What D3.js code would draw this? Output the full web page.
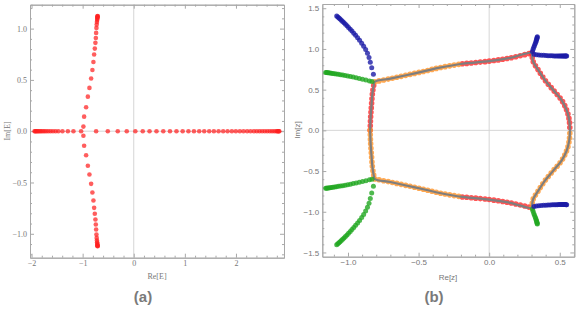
<!DOCTYPE html>
<html>
<head>
<meta charset="utf-8">
<script src="https://cdn.jsdelivr.net/npm/d3@7"></script>
<style>body{margin:0;background:#fff}</style>
</head>
<body>
<div class="canvas"></div>
<script>
// ---- panel (a): spectrum E ----
const realE = [-1.941,-1.928,-1.912,-1.895,-1.875,-1.854,-1.830,-1.805,-1.775,-1.744,-1.709,-1.670,-1.627,-1.580,-1.529,-1.475,-1.395,-1.289,-1.180,-1.030,
  -0.736,-0.508,-0.313,-0.137,0.031,0.176,0.309,0.445,0.578,0.709,0.836,0.957,1.070,1.178,1.281,1.379,1.477,1.568,1.660,1.750,1.836,1.920,1.998,
  2.076,2.148,2.219,2.285,2.350,2.408,2.461,2.512,2.564,2.613,2.662,2.707,2.750,2.789,2.810,2.825,2.838,2.848];
// upper branch, the lower one is its complex conjugate
const branchE = [[-0.985,0.045],[-0.971,0.142],[-0.932,0.234],[-0.898,0.337],[-0.867,0.422],[-0.834,0.513],[-0.809,0.597],[-0.789,0.675],
  [-0.775,0.747],[-0.762,0.805],[-0.750,0.861],[-0.742,0.909],[-0.736,0.958],[-0.730,1.007],[-0.725,1.040],[-0.720,1.065],[-0.716,1.083],
  [-0.713,1.097],[-0.711,1.107],[-0.709,1.114],[-0.708,1.119],[-0.707,1.122]];

// ---- panel (b): z plane ----
const blueArc = [[-1.080,1.404],[-1.072,1.392],[-1.064,1.380],[-1.056,1.367],[-1.047,1.353],[-1.038,1.338],[-1.028,1.321],[-1.018,1.303],
  [-1.007,1.284],[-0.996,1.264],[-0.984,1.242],[-0.972,1.219],[-0.959,1.194],[-0.946,1.167],[-0.932,1.138],[-0.918,1.106],[-0.903,1.071],
  [-0.889,1.033],[-0.875,0.992],[-0.862,0.946],[-0.851,0.895],[-0.842,0.838],[-0.832,0.770],[-0.820,0.688]];
const greenLeft = [[-1.158,0.712],[-1.152,0.711],[-1.145,0.709],[-1.137,0.707],[-1.128,0.705],[-1.118,0.702],[-1.107,0.699],[-1.095,0.696],
  [-1.082,0.692],[-1.068,0.688],[-1.053,0.684],[-1.037,0.679],[-1.020,0.674],[-1.002,0.668],[-0.983,0.661],[-0.963,0.654],[-0.942,0.646],
  [-0.920,0.637],[-0.897,0.628],[-0.873,0.618],[-0.848,0.607],[-0.830,0.600]];
const rightVert = [[0.341,1.150],[0.340,1.140],[0.338,1.128],[0.336,1.115],[0.333,1.100],[0.330,1.083],[0.326,1.064],[0.321,1.043],
  [0.316,1.020],[0.311,0.995],[0.307,0.968]];
const rightHoriz = [[0.318,0.935],[0.335,0.930],[0.352,0.926],[0.369,0.923],[0.386,0.921],[0.402,0.919],[0.417,0.917],[0.432,0.916],
  [0.446,0.915],[0.459,0.914],[0.471,0.913],[0.482,0.913],[0.492,0.912],[0.501,0.912],[0.509,0.912],[0.516,0.912],[0.523,0.912],
  [0.529,0.912],[0.535,0.912],[0.540,0.912],[0.545,0.913],[0.549,0.913]];
// closed loop, upper half pieces
const loopLeft = [[-0.843,0.0],[-0.840,0.15],[-0.834,0.30],[-0.827,0.45],[-0.818,0.55],[-0.810,0.597]];
const loopTopA = [[-0.810,0.597],[-0.700,0.635],[-0.580,0.680],[-0.450,0.730],[-0.350,0.770],[-0.190,0.818]];
const loopTopB = [[-0.190,0.818],[0.0,0.850],[0.150,0.890],[0.300,0.950]];
const loopRight = [[0.300,0.950],[0.305,0.900],[0.312,0.843],[0.348,0.741],[0.395,0.618],[0.454,0.495],[0.513,0.372],[0.549,0.249],[0.567,0.127],[0.572,0.0]];

const conj = pts => pts.map(p => [p[0], -p[1]]);

const svg = d3.select('.canvas')
  .append('svg')
    .attr('width', 581)
    .attr('height', 309)
    .style('font-family', 'Liberation Sans, Arial, sans-serif');

const frameCol = '#a8a8a8';
const labCol = '#777';

function frame(x, y, xMaj, xMin, yMaj, yMin, fmtX, fmtY, font) {
  const [x0, x1] = x.range();
  const [y0, y1] = y.range();
  const g = svg.append('g');
  // zero lines
  g.append('line').attr('x1', x(0)).attr('x2', x(0)).attr('y1', y0).attr('y2', y1)
    .attr('stroke', '#d6d6d6').attr('stroke-width', 1);
  g.append('line').attr('x1', x0).attr('x2', x1).attr('y1', y(0)).attr('y2', y(0))
    .attr('stroke', '#d6d6d6').attr('stroke-width', 1);

  const axes = [
    [d3.axisBottom, x, `translate(0,${y0})`, xMaj, xMin, fmtX],
    [d3.axisTop, x, `translate(0,${y1})`, xMaj, xMin, null],
    [d3.axisLeft, y, `translate(${x0},0)`, yMaj, yMin, fmtY],
    [d3.axisRight, y, `translate(${x1},0)`, yMaj, yMin, null]
  ];
  axes.forEach(([ax, sc, tr, maj, min, fmt]) => {
    const minor = g.append('g').attr('transform', tr)
      .call(ax(sc).tickValues(min).tickSize(-2).tickSizeOuter(0).tickFormat(''));
    const major = g.append('g').attr('transform', tr)
      .call(ax(sc).tickValues(maj).tickSize(-4).tickSizeOuter(0).tickPadding(3)
        .tickFormat(fmt ? fmt : ''));
    [minor, major].forEach(a => {
      a.selectAll('path,line').attr('stroke', frameCol);
      a.selectAll('text').attr('fill', labCol).style('font-family', font).style('font-size', '8px');
    });
  });
  return g;
}

const fmtMinus = f => d => f(d).replace('-', '\u2212');

// ---------- panel (a)
const xa = d3.scaleLinear().domain([-2.03, 2.94]).range([30, 284]);
const ya = d3.scaleLinear().domain([-1.233, 1.233]).range([257.7, 4.7]);
const serif = 'Liberation Serif, Times New Roman, serif';
frame(xa, ya,
  [-2, -1, 0, 1, 2], d3.range(-2, 2.95, 0.2).filter(v => Math.abs(v - Math.round(v)) > 0.01),
  [-1, -0.5, 0, 0.5, 1], d3.range(-1.2, 1.25, 0.1).filter(v => Math.abs(v * 2 - Math.round(v * 2)) > 0.01),
  fmtMinus(d3.format('d')), fmtMinus(d3.format('.1f')), serif);

const ptsA = realE.map(v => [v, 0]).concat(branchE, conj(branchE));
svg.append('g').selectAll('circle')
  .data(ptsA)
  .enter().append('circle')
    .attr('cx', d => xa(d[0]))
    .attr('cy', d => ya(d[1]))
    .attr('r', 2.3)
    .attr('fill', '#ff2020')
    .attr('fill-opacity', 0.72);

svg.append('text').attr('x', 157).attr('y', 279).attr('text-anchor', 'middle')
  .attr('fill', labCol).style('font-family', serif).style('font-size', '8px').text('Re[E]');
svg.append('text').attr('transform', 'translate(10,131) rotate(-90)').attr('text-anchor', 'middle')
  .attr('fill', labCol).style('font-family', serif).style('font-size', '8px').text('Im[E]');
svg.append('text').attr('x', 143).attr('y', 302).attr('text-anchor', 'middle')
  .attr('fill', '#7a7a7a').style('font-weight', 'bold').style('font-size', '15px').text('(a)');

// ---------- panel (b)
const xb = d3.scaleLinear().domain([-1.182, 0.603]).range([322.3, 574.3]);
const yb = d3.scaleLinear().domain([-1.552, 1.552]).range([256.7, 4]);
const sans = 'Liberation Sans, Arial, sans-serif';
frame(xb, yb,
  [-1, -0.5, 0, 0.5], d3.range(-1.1, 0.65, 0.1).filter(v => Math.abs(v * 2 - Math.round(v * 2)) > 0.01),
  [-1.5, -1, -0.5, 0, 0.5, 1, 1.5], d3.range(-1.5, 1.55, 0.1).filter(v => Math.abs(v * 2 - Math.round(v * 2)) > 0.01),
  fmtMinus(d3.format('.1f')), fmtMinus(d3.format('.1f')), sans);

const line = d3.line().x(d => xb(d[0])).y(d => yb(d[1])).curve(d3.curveCatmullRom);

const red = [loopLeft, loopTopB, loopRight, conj(loopTopB)];
const orange = [conj(loopLeft), loopTopA, conj(loopTopA), conj(loopRight)];
const bands = svg.append('g');
[[red, '#ff2a2a'], [orange, '#ff9428']].forEach(([set, col]) => {
  bands.selectAll(null)
    .data(set)
    .enter().append('path')
      .attr('d', line)
      .attr('fill', 'none')
      .attr('stroke', col)
      .attr('stroke-opacity', 0.8)
      .attr('stroke-width', 5.6)
      .attr('stroke-linecap', 'round')
      .attr('stroke-dasharray', '0 4.5');
});

// gray curve over the loop
const loop = loopLeft.concat(loopTopA.slice(1), loopTopB.slice(1), loopRight.slice(1),
  conj(loopRight).reverse().slice(1), conj(loopTopB).reverse().slice(1), conj(loopTopA).reverse().slice(1),
  conj(loopLeft).reverse().slice(1));
svg.append('path')
  .attr('d', line(loop))
  .attr('fill', 'none')
  .attr('stroke', '#7e7e7e')
  .attr('stroke-width', 2.2);

const blue = '#1c1ca6';
const green = '#22a822';
const series = [
  [blueArc, blue], [greenLeft, green], [conj(blueArc), green], [conj(greenLeft), green],
  [rightVert, blue], [rightHoriz, blue], [conj(rightVert), green], [conj(rightHoriz), blue]
];
series.forEach(([pts, col]) => {
  svg.append('g').selectAll('circle')
    .data(pts)
    .enter().append('circle')
      .attr('cx', d => xb(d[0]))
      .attr('cy', d => yb(d[1]))
      .attr('r', 2.5)
      .attr('fill', col)
      .attr('fill-opacity', 0.8);
});

svg.append('text').attr('x', 448).attr('y', 280).attr('text-anchor', 'middle')
  .attr('fill', labCol).style('font-family', sans).style('font-size', '8px').text('Re[z]');
svg.append('text').attr('transform', 'translate(300,130) rotate(-90)').attr('text-anchor', 'middle')
  .attr('fill', labCol).style('font-family', sans).style('font-size', '8px').text('Im[z]');
svg.append('text').attr('x', 434).attr('y', 302).attr('text-anchor', 'middle')
  .attr('fill', '#7a7a7a').style('font-weight', 'bold').style('font-size', '15px').text('(b)');
</script>
</body>
</html>
